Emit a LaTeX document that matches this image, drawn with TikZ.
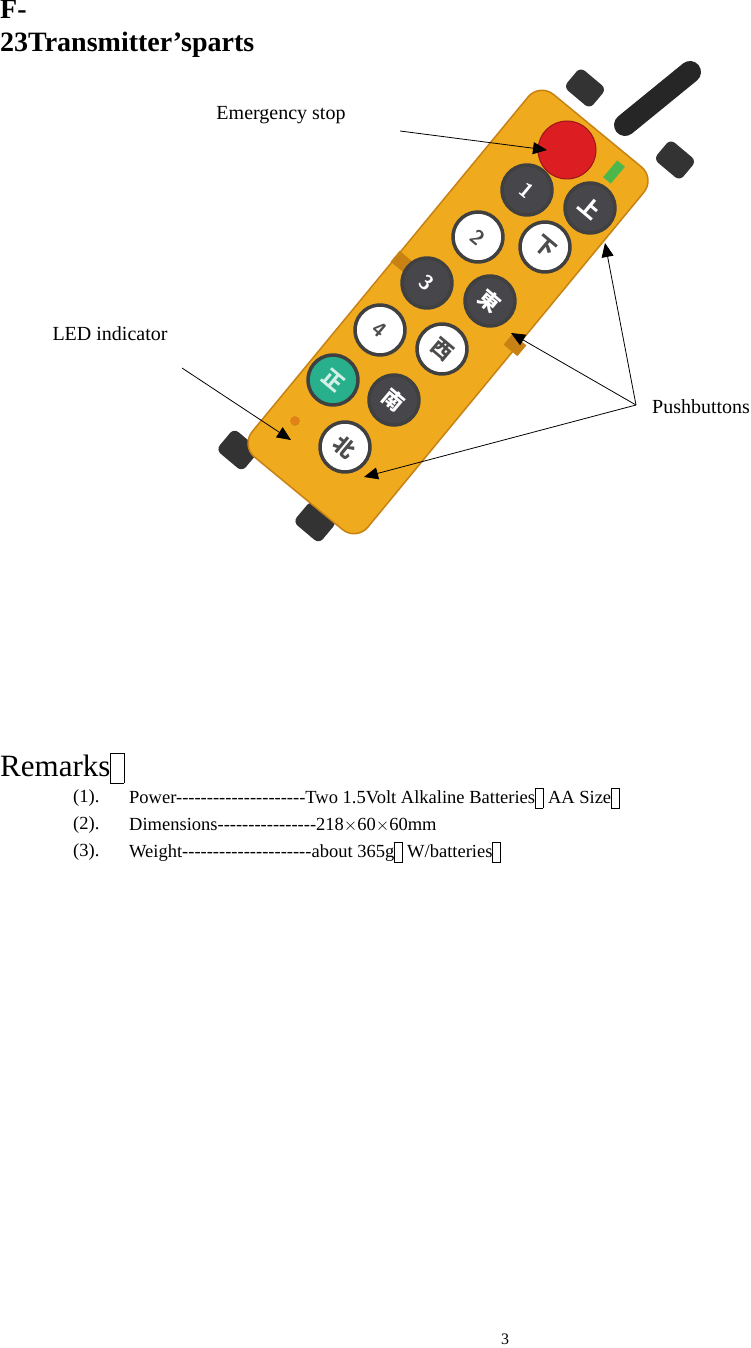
\documentclass[tikz,border=0pt]{standalone}
\usepackage{fontspec}
\setmainfont{Liberation Serif}
\newfontfamily\plain[Ligatures=TeXOff]{Liberation Serif}
\newfontfamily\cjk{Noto Sans CJK SC}
\usetikzlibrary{arrows.meta}
\definecolor{bodyor}{RGB}{240,170,30}
\definecolor{bodydk}{RGB}{200,130,20}
\definecolor{btndk}{RGB}{70,70,75}
\definecolor{estop}{RGB}{220,30,35}
\definecolor{grn}{RGB}{40,175,140}
\newcommand{\gapbox}{\raisebox{-0.1em}{\framebox[0.45em]{\rule{0pt}{0.75em}}}}
\tikzset{
 lbl/.style={font=\fontsize{20}{22}\selectfont, inner sep=0pt},
 item/.style={font=\plain\fontsize{18.5}{20}\selectfont, anchor=west, inner sep=0pt},
 arr/.style={-{Triangle[length=14pt,width=12pt]}, line width=0.8pt},
 btnw/.style={circle, minimum size=50pt, fill=white, draw=black!75, line width=3.5pt, font=\cjk\fontsize{21}{21}\selectfont\bfseries, text=black!70, rotate=-40},
 btnd/.style={btnw, fill=btndk, text=white},
 bump/.style={fill=black!80, rounded corners=6pt},
}
\begin{document}
\begin{tikzpicture}[x=1pt,y=-1pt]
\useasboundingbox (0,0) rectangle (751,1348);
% title
\node[anchor=north west, align=left, inner sep=0pt, font=\bfseries\fontsize{28}{33}\selectfont] (title) at (0,0) {F-\\23Transmitter’sparts};
% antenna
\draw[line width=22pt, black!85, line cap=round] (625,125) -- (690,72);
% bumpers
\node[bump, minimum width=34pt, minimum height=26pt, rotate=-40] (b1) at (585,88) {};
\node[bump, minimum width=34pt, minimum height=26pt, rotate=-40] (b2) at (675,160) {};
\node[bump, minimum width=34pt, minimum height=28pt, rotate=-40] (b3) at (238,450) {};
\node[bump, minimum width=34pt, minimum height=28pt, rotate=-40] (b4) at (315,522) {};
% body
\node[rectangle, rounded corners=18pt, fill=bodyor, draw=bodydk, line width=1.5pt, minimum width=470pt, minimum height=150pt, rotate=50.5] (body) at (448,312) {};
% ejectors
\node[fill=bodydk, minimum width=14pt, minimum height=18pt, rotate=50] (t1) at (402,262) {};
\node[fill=bodydk, minimum width=14pt, minimum height=18pt, rotate=50] (t2) at (515,345) {};
% green strip
\node[fill=green!60!black!70, minimum width=22pt, minimum height=10pt, rotate=50] (gs) at (614,172) {};
% estop
\node[circle, fill=estop, draw=estop!70!black, line width=1pt, minimum size=58pt] (es) at (567,150) {};
% buttons
\node[btnd] (k1) at (527,190) {\sffamily 1};
\node[btnd] (kup) at (590,208) {上};
\node[btnw] (k2) at (478,237) {\sffamily 2};
\node[btnw] (kdn) at (545,247) {下};
\node[btnd] (k3) at (427,283) {\sffamily 3};
\node[btnd] (ke) at (490,301) {東};
\node[btnw] (k4) at (380,330) {\sffamily 4};
\node[btnw] (kw) at (442,349) {西};
\node[btnw, fill=grn, text=white!80!grn] (kz) at (333,380) {正};
\node[btnd] (ks) at (394,400) {南};
\node[btnw] (kn) at (345,447) {北};
% LED
\node[circle, fill=orange!60!brown, draw=bodydk, minimum size=9pt, inner sep=0pt] (led) at (295,421) {};
% labels
\node[lbl] (les) at (281,115) {Emergency stop};
\node[lbl] (lled) at (110,334) {LED indicator};
\node[lbl, anchor=west] (lpb) at (652,407) {Pushbuttons};
\coordinate (ces) at (400,131);
\coordinate (cled) at (182,368);
\coordinate (cpb) at (636,405);
\coordinate (p1) at (605,243);
\coordinate (p2) at (511,333);
\coordinate (p3) at (364,477);
\coordinate (pe) at (547,150);
\coordinate (pl) at (291,440);
\draw[arr] (ces) -- (pe);
\draw[arr] (cled) -- (pl);
\draw[arr] (cpb) -- (p1);
\draw[arr] (cpb) -- (p2);
\draw[arr] (cpb) -- (p3);
% remarks
\node[anchor=west, inner sep=0pt, font=\fontsize{31}{34}\selectfont] (rem) at (0,768) {Remarks\gapbox};
\node[item] (n1) at (73,798) {(1).};
\node[item] (n2) at (73,825) {(2).};
\node[item] (n3) at (73,852) {(3).};
\node[item] (t1x) at (129,798) {Power---------------------Two 1.5Volt Alkaline Batteries\gapbox\ AA Size\gapbox};
\node[item] (t2x) at (129,825) {Dimensions----------------218$\times$60$\times$60mm};
\node[item] (t3x) at (129,852) {Weight---------------------about 365g\gapbox\ W/batteries\gapbox};
\node[font=\fontsize{16}{18}\selectfont, inner sep=0pt] (pg) at (505,1339) {3};
\end{tikzpicture}
\end{document}
